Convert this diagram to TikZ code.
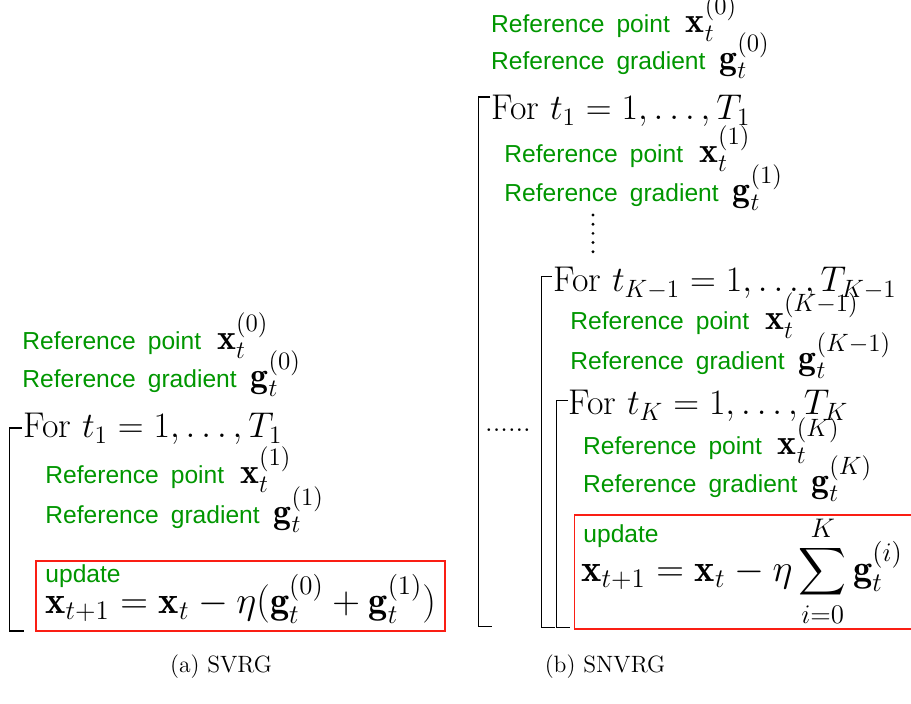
\RequirePackage{fix-cm}
\documentclass[tikz,border=0pt]{standalone}
\usepackage{exscale}
\usepackage{fontspec}
\newfontfamily\helv{Liberation Sans}
\definecolor{refgreen}{RGB}{0,150,0}
\definecolor{boxred}{RGB}{250,30,20}
\newcommand{\reftxt}[1]{{\helv\fontsize{12.3}{14}\selectfont\color{refgreen}#1}}
\newcommand{\refpt}[1]{\reftxt{Reference\hspace{6pt}point}\hspace{8pt}$\mathbf{x}_t^{#1}$}
\newcommand{\refgr}[1]{\reftxt{Reference\hspace{6pt}gradient}\hspace{7pt}$\mathbf{g}_t^{#1}$}
\newcommand{\smallsum}{\mathop{\vcenter{\hbox{\scalebox{0.8}{$\displaystyle\sum$}}}}\limits}
\tikzset{
  line/.style={anchor=base west, inner sep=0pt},
  eqline/.style={line, font=\fontsize{19.2}{22}\selectfont},
  bracket/.style={line width=0.7pt},
  updbox/.style={draw=boxred, line width=0.75pt},
  caption/.style={anchor=base, inner sep=0pt, font=\fontsize{11.8}{14}\selectfont},
}
\begin{document}
\begin{tikzpicture}[x=0.5pt,y=-0.5pt,font=\fontsize{17.9}{21}\selectfont]
\useasboundingbox (0,0) rectangle (911,704);

% (a) SVRG
\node[line] (ptA0) at (22,350) {\refpt{(0)}};
\node[line] (grA0) at (22,388) {\refgr{(0)}};
\draw[bracket] (22,428) -- (9.3,428) -- (9.3,631) -- (24,631);
\node[line] (forA) at (23,438) {For $t_1=1,\ldots,T_1$};
\node[line] (ptA1) at (45,484) {\refpt{(1)}};
\node[line] (grA1) at (45,524) {\refgr{(1)}};
\draw[updbox] (36,561) rectangle (445,631);
\node[line] (updA) at (45,583) {\reftxt{update}};
\node[eqline] (eqA) at (45,614) {$\mathbf{x}_{t+1}=\mathbf{x}_t-\eta(\mathbf{g}_t^{(0)}+\mathbf{g}_t^{(1)})$};

% (b) SNVRG
\node[line] (ptB0) at (490.7,33) {\refpt{(0)}};
\node[line] (grB0) at (490.7,70) {\refgr{(0)}};
\draw[bracket] (490,97) -- (478.3,97) -- (478.3,626.7) -- (491.7,626.7);
\node[line] (forB1) at (491,120) {For $t_1=1,\ldots,T_1$};
\node[line] (ptB1) at (504,163) {\refpt{(1)}};
\node[line] (grB1) at (504,202) {\refgr{(1)}};
\draw[line width=1.6pt, line cap=round, dash pattern=on 0pt off 4.6pt] (593,215) -- (593,258);
\node[anchor=base, inner sep=0pt, font=\fontsize{14}{16}\selectfont] (hdots) at (508,432) {......};

\draw[bracket] (551.7,276.7) -- (541.7,276.7) -- (541.7,627.7) -- (555,627.7);
\node[line] (forB2) at (553,291.7) {For $t_{K-1}=1,\ldots,T_{K-1}$};
\node[line] (ptB2) at (570,330) {\refpt{(K-1)}};
\node[line] (grB2) at (570,370) {\refgr{(K-1)}};

\draw[bracket] (568,400.7) -- (556.7,400.7) -- (556.7,627.7) -- (570,627.7);
\node[line] (forB3) at (568,415) {For $t_K=1,\ldots,T_K$};
\node[line] (ptB3) at (582.7,455) {\refpt{(K)}};
\node[line] (grB3) at (582.7,493) {\refgr{(K)}};
\draw[updbox] (915,515) -- (574.3,515) -- (574.3,629) -- (915,629);
\node[line] (updB) at (583,542.7) {\reftxt{update}};
\node[eqline] (eqB) at (581,581.7) {$\displaystyle\mathbf{x}_{t+1}=\mathbf{x}_t-\eta\smallsum_{i=0}^{K}\mathbf{g}_t^{(i)}$};

% captions
\node[caption] (capA) at (221,673) {(a) SVRG};
\node[caption] (capB) at (605,673) {(b) SNVRG};
\end{tikzpicture}
\end{document}
